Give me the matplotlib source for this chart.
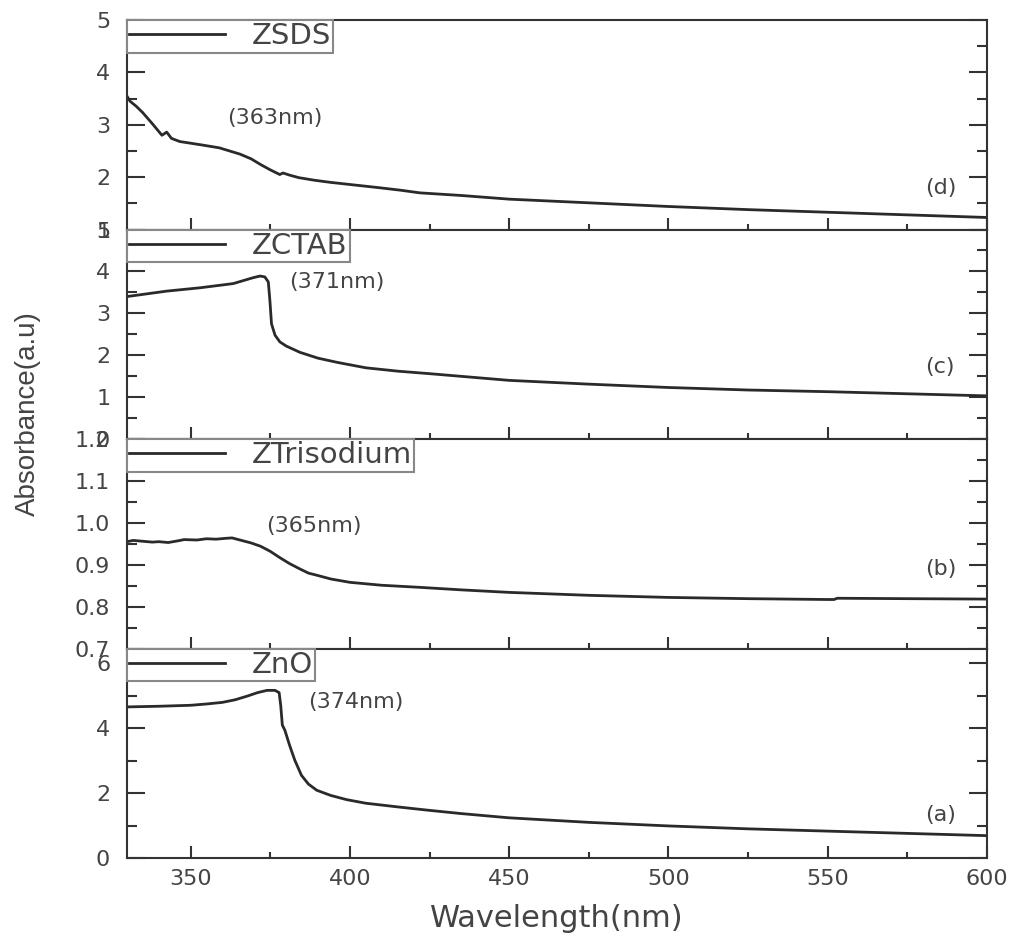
import matplotlib
matplotlib.use("Agg")
from matplotlib import pyplot as plt
from matplotlib.ticker import MultipleLocator, FormatStrFormatter

# (d) ZSDS
wl_d = [330, 331, 333, 335, 338, 341, 342.5, 344, 346.6, 353, 359, 365.5, 369, 372,
        375, 378, 379, 381, 384, 389, 394, 400, 409, 416, 422, 435, 450, 475, 500,
        525, 550, 575, 600]
abs_d = [3.55, 3.45, 3.35, 3.23, 3.02, 2.80, 2.86, 2.74, 2.68, 2.62, 2.56, 2.44, 2.35,
         2.24, 2.14, 2.05, 2.08, 2.04, 1.99, 1.94, 1.90, 1.86, 1.80, 1.75, 1.70, 1.65,
         1.58, 1.51, 1.44, 1.38, 1.33, 1.28, 1.23]

# (c) ZCTAB
wl_c = [330, 342.5, 353, 363.4, 369.6, 371.8, 373.3, 374.4, 374.9, 375.4, 376.5, 378,
        380, 384.3, 390, 396, 405, 415, 425, 450, 475, 500, 525, 550, 575, 600]
abs_c = [3.40, 3.53, 3.61, 3.71, 3.85, 3.89, 3.87, 3.75, 3.30, 2.75, 2.48, 2.32, 2.22,
         2.07, 1.93, 1.83, 1.70, 1.62, 1.56, 1.40, 1.31, 1.23, 1.17, 1.13, 1.08, 1.03]

# (b) ZTrisodium
wl_b = [330, 332, 335, 338, 340, 343, 346, 348, 352, 355, 358, 361, 363, 365.5, 369,
        372, 375, 378, 381, 384.3, 387, 389.6, 394, 400, 410, 422, 435, 450, 475, 500,
        525, 550, 552, 553, 575, 600]
abs_b = [0.955, 0.958, 0.956, 0.954, 0.955, 0.953, 0.957, 0.960, 0.959, 0.962, 0.961,
         0.963, 0.964, 0.959, 0.952, 0.944, 0.932, 0.917, 0.903, 0.890, 0.880, 0.875,
         0.866, 0.858, 0.851, 0.846, 0.840, 0.834, 0.827, 0.822, 0.819, 0.817, 0.817,
         0.820, 0.819, 0.818]

# (a) ZnO
wl_a = [330, 340, 350, 355, 360, 364, 368, 371, 374, 376.5, 377.8, 378.3, 378.8, 379.6,
        381, 382.7, 384.8, 387, 389.6, 394, 399, 405, 414.7, 424, 435, 450, 475, 500,
        525, 550, 575, 600]
abs_a = [4.66, 4.68, 4.71, 4.75, 4.80, 4.88, 5.00, 5.10, 5.17, 5.17, 5.10, 4.70, 4.10,
         3.94, 3.50, 3.02, 2.55, 2.28, 2.09, 1.93, 1.80, 1.69, 1.58, 1.48, 1.37, 1.24,
         1.10, 0.99, 0.90, 0.83, 0.76, 0.69]

panels = [
    (wl_d, abs_d, "ZSDS", (1, 5), 1, 0.5, "%d", "(363nm)", (361.5, 3.13), "(d)", 1.8),
    (wl_c, abs_c, "ZCTAB", (0, 5), 1, 0.5, "%d", "(371nm)", (381.0, 3.74), "(c)", 1.71),
    (wl_b, abs_b, "ZTrisodium", (0.7, 1.2), 0.1, 0.05, "%.1f", "(365nm)", (373.8, 0.993), "(b)", 0.89),
    (wl_a, abs_a, "ZnO", (0, 6.46), 2, 1, "%d", "(374nm)", (386.8, 4.8), "(a)", 1.32),
]

plt.rcParams["font.family"] = ["DejaVu Sans"]
text_col = "#444444"
line_col = "#2a2a2a"

fig, axes = plt.subplots(4, 1, sharex=True, figsize=(10.15, 9.36), dpi=100)
plt.subplots_adjust(left=0.125, right=0.9724, top=0.9786, bottom=0.0833, hspace=0)

for ax, (x, y, name, lim, major, minor, fmt, note, note_xy, tag, tag_y) in zip(axes, panels):
    ax.plot(x, y, color=line_col, lw=2.0, label=name)
    ax.set_xlim(330, 600)
    ax.set_ylim(*lim)
    ax.yaxis.set_major_locator(MultipleLocator(major))
    ax.yaxis.set_minor_locator(MultipleLocator(minor))
    ax.yaxis.set_major_formatter(FormatStrFormatter(fmt))
    ax.xaxis.set_major_locator(MultipleLocator(50))
    ax.xaxis.set_minor_locator(MultipleLocator(25))

    ax.tick_params(axis="both", which="both", direction="in", right=True, top=False,
                   colors="#333333", labelcolor=text_col, labelsize=16, width=1.5)
    ax.tick_params(axis="y", which="major", length=13, pad=12)
    ax.tick_params(axis="y", which="minor", length=7)
    ax.tick_params(axis="x", which="major", length=8.5, pad=8)
    ax.tick_params(axis="x", which="minor", length=4)
    for s in ax.spines.values():
        s.set_color("#333333")
        s.set_linewidth(1.5)

    leg = ax.legend(loc="upper left", borderaxespad=0, borderpad=0.08, fontsize=21,
                    handlelength=3.3, handletextpad=0.9, fancybox=False, framealpha=1,
                    edgecolor="#888888", labelcolor=text_col)
    leg.get_frame().set_linewidth(1.5)
    for h in leg.get_lines():
        h.set_linewidth(2.0)

    ax.text(note_xy[0], note_xy[1], note, fontsize=16, color=text_col,
            ha="left", va="center")
    ax.text(580.5, tag_y, tag, fontsize=16, color=text_col, ha="left", va="center")

fig.text(0.0276, 0.5577, "Absorbance(a.u)", rotation=90, fontsize=20, color=text_col,
         family=["Liberation Sans"], ha="center", va="center")
fig.text(0.549, 0.019, "Wavelength(nm)", fontsize=22, color=text_col,
         ha="center", va="center")

fig.savefig("out.png", dpi=100)
